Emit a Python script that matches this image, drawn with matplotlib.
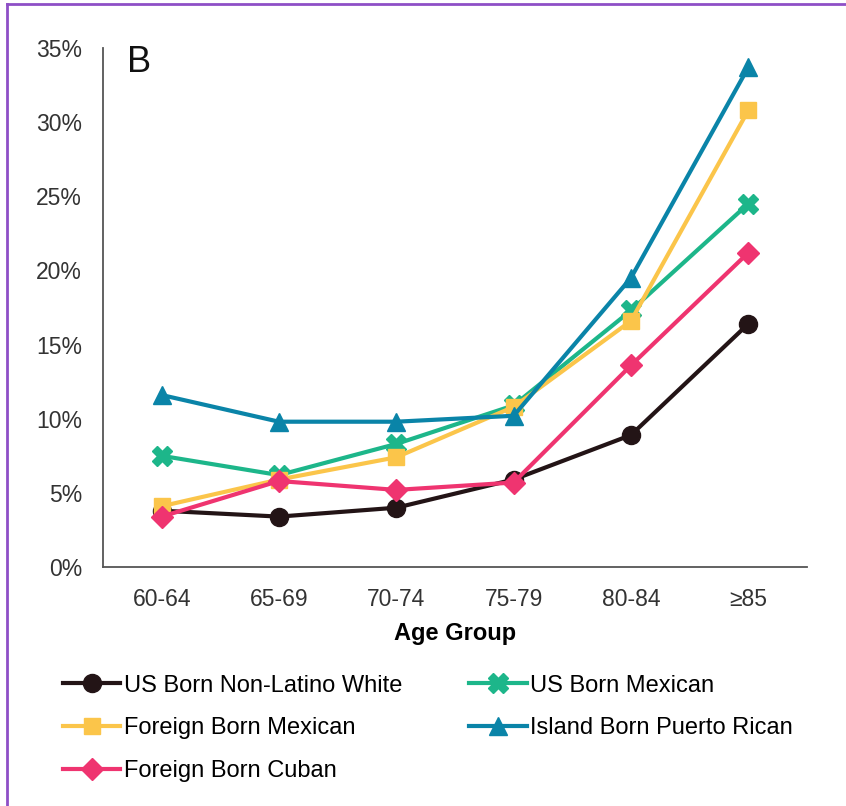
import matplotlib
matplotlib.use("Agg")
import matplotlib.pyplot as plt
from matplotlib.lines import Line2D
import numpy as np

plt.rcParams["font.family"] = ["Liberation Sans", "DejaVu Sans"]

# Share of each group by age band
age_groups = ["60-64", "65-69", "70-74", "75-79", "80-84", "≥85"]
us_white = [3.8, 3.4, 4.0, 5.9, 8.9, 16.4]
us_mexican = [7.5, 6.2, 8.3, 10.9, 17.3, 24.5]
fb_mexican = [4.1, 5.9, 7.4, 10.8, 16.6, 30.8]
pr_island = [11.6, 9.8, 9.8, 10.2, 19.5, 33.7]
fb_cuban = [3.4, 5.8, 5.2, 5.7, 13.6, 21.2]

series = [
    ("US Born Non-Latino White", us_white, "#231416", "o", 13),
    ("US Born Mexican", us_mexican, "#1db68a", "X", 14),
    ("Foreign Born Mexican", fb_mexican, "#fbc54a", "s", 12),
    ("Island Born Puerto Rican", pr_island, "#0a84a8", "^", 13),
    ("Foreign Born Cuban", fb_cuban, "#ef3470", "D", 11),
]

fig = plt.figure(figsize=(8.46, 8.06), dpi=100)
ax = fig.add_axes([0.1217, 0.2965, 0.8322, 0.6439])

x = np.arange(len(age_groups))
handles = {}
for i, (name, vals, col, mk, ms) in enumerate(series):
    (ln,) = ax.plot(x, np.array(vals) / 100, color=col, lw=3, marker=mk,
                    ms=ms, mec=col, mfc=col, label=name, zorder=3 + i)
    handles[name] = ln

ax.set_xlim(-0.5, 5.5)
ax.set_ylim(0, 0.35)
ax.set_yticks(np.arange(0, 0.351, 0.05))
ax.set_yticklabels([f"{int(round(v * 100))}%" for v in np.arange(0, 0.351, 0.05)])
ax.set_xticks(x)
ax.set_xticklabels(age_groups)
ax.tick_params(axis="both", length=0, labelsize=16.5, labelcolor="#333333")
ax.tick_params(axis="y", pad=15)
ax.tick_params(axis="x", pad=15)
ax.set_xlabel("Age Group", fontsize=17, fontweight="bold", labelpad=8)

for side in ["top", "right"]:
    ax.spines[side].set_visible(False)
for side in ["left", "bottom"]:
    ax.spines[side].set_color("#555555")
    ax.spines[side].set_linewidth(1.3)

ax.text(0.034, 1.006, "B", transform=ax.transAxes, fontsize=26,
        ha="left", va="top", color="#111111")

# legend filled column-wise, so order entries to read row by row
order = ["US Born Non-Latino White", "Foreign Born Mexican", "Foreign Born Cuban",
         "US Born Mexican", "Island Born Puerto Rican"]
fig.legend([handles[n] for n in order], order, ncol=2, frameon=False,
           loc="upper left", bbox_to_anchor=(0.074, 0.163), fontsize=17,
           handlelength=2.45, handletextpad=0.13, columnspacing=2.85,
           labelspacing=0.88, borderpad=0, borderaxespad=0)

# purple frame edges
purple = "#8e4fc6"
fig.add_artist(Line2D([0.008, 0.008], [0, 0.995], color=purple, lw=2,
                      transform=fig.transFigure))
fig.add_artist(Line2D([0.008, 1], [0.995, 0.995], color=purple, lw=2,
                      transform=fig.transFigure))

fig.savefig("out.png", dpi=100)
